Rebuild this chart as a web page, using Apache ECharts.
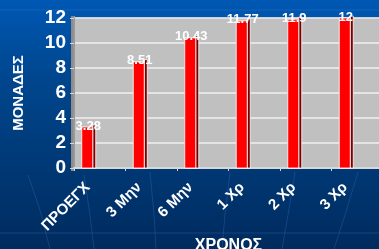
<!DOCTYPE html>
<html>
<head>
<meta charset="utf-8">
<script src="https://cdn.jsdelivr.net/npm/echarts@6/dist/echarts.min.js"></script>
<style>
  html, body { margin: 0; padding: 0; }
  #chart { width: 379px; height: 249px; }
</style>
</head>
<body>
<div id="chart"></div>
<script>
// κατηγορίες και τιμές
var categories = ['ΠΡΟΕΓΧ', '3 Μην', '6 Μην', '1 Χρ', '2 Χρ', '3 Χρ'];
var values = [3.28, 8.51, 10.43, 11.77, 11.9, 12];
var valueLabels = ['3.28', '8.51', '10.43', '11.77', '11.9', '12'];
var yTicks = [0, 2, 4, 6, 8, 10, 12];

var myChart = echarts.init(document.getElementById('chart'));

function renderBar(params, api) {
    var i = api.value(0);
    var v = api.value(1);
    var top = api.coord([i, v]);
    var base = api.coord([i, 0]);
    var x = top[0] - 18;
    var w = 11;
    var h = base[1] - top[1];
    return {
        type: 'group',
        children: [
            {
                type: 'rect',
                shape: { x: x + w, y: top[1] - 2, width: 3, height: h + 2 },
                style: { fill: '#7a0000', stroke: '#ffffff', lineWidth: 0.8 }
            },
            {
                type: 'rect',
                shape: { x: x, y: top[1], width: w, height: h },
                style: { fill: '#ff0000', stroke: '#ffffff', lineWidth: 0.8 }
            },
            {
                type: 'text',
                style: {
                    x: x + w / 2 + 1, y: top[1] - 1,
                    text: valueLabels[params.dataIndex],
                    fill: '#ffffff',
                    font: 'bold 13px "Liberation Sans", Arial, sans-serif',
                    align: 'center', verticalAlign: 'middle'
                }
            }
        ]
    };
}

var faint = { stroke: 'rgba(80,130,210,0.25)', lineWidth: 1 };

myChart.setOption({
    animation: false,
    backgroundColor: {
        type: 'linear', x: 0, y: 0, x2: 0, y2: 1,
        colorStops: [
            { offset: 0, color: '#0058b4' },
            { offset: 0.3, color: '#00478f' },
            { offset: 1, color: '#002b5e' }
        ]
    },
    graphic: [
        { type: 'line', shape: { x1: 0, y1: 233, x2: 379, y2: 233 }, style: faint },
        { type: 'line', shape: { x1: 0, y1: 10, x2: 379, y2: 10 }, style: faint },
        { type: 'polyline', shape: { points: [[28, 175], [40, 210], [50, 249]] }, style: faint },
        { type: 'polyline', shape: { points: [[84, 175], [90, 215], [94, 249]] }, style: faint },
        { type: 'polyline', shape: { points: [[150, 172], [154, 215], [156, 249]] }, style: faint },
        { type: 'polyline', shape: { points: [[230, 172], [225, 215], [222, 249]] }, style: faint },
        { type: 'polyline', shape: { points: [[295, 172], [288, 215], [282, 249]] }, style: faint },
        { type: 'polyline', shape: { points: [[358, 172], [345, 215], [334, 249]] }, style: faint },
        {
            type: 'rect', z: -1,
            shape: { x: 71, y: 16, width: 4, height: 155 },
            style: { fill: '#8c8c8c' }
        }
    ],
    grid: {
        left: 74, top: 18, width: 309, height: 150,
        outerBoundsMode: 'none',
        containLabel: false,
        show: true, backgroundColor: '#c0c0c0', borderColor: '#a0a0a0', borderWidth: 1
    },
    xAxis: {
        type: 'category',
        data: categories,
        name: 'ΧΡΟΝΟΣ',
        nameLocation: 'middle',
        nameGap: 70,
        nameMoveOverlap: false,
        nameTextStyle: { color: '#ffffff', fontWeight: 'bold', fontSize: 16, fontFamily: 'Liberation Sans', verticalAlign: 'top' },
        axisLine: { lineStyle: { color: '#d8d8d8', width: 2 } },
        axisTick: { show: true, length: 3, lineStyle: { color: '#d8d8d8' } },
        axisLabel: {
            rotate: 45,
            margin: 5,
            color: '#ffffff',
            fontWeight: 'bold',
            fontSize: 15,
            fontFamily: 'Liberation Sans',
            padding: [0, 17, 0, 0]
        }
    },
    yAxis: {
        type: 'value',
        min: yTicks[0],
        max: yTicks[yTicks.length - 1],
        interval: 2,
        name: 'ΜΟΝΑΔΕΣ',
        nameLocation: 'middle',
        nameGap: 48,
        nameMoveOverlap: false,
        nameTextStyle: { color: '#ffffff', fontWeight: 'bold', fontSize: 15, fontFamily: 'Liberation Sans' },
        axisLine: { show: true, lineStyle: { color: '#9a9a9a' } },
        axisTick: { show: true, length: 4, lineStyle: { color: '#d8d8d8' } },
        splitLine: { lineStyle: { color: '#f0f0f0', width: 1.5 } },
        axisLabel: {
            margin: 8,
            color: '#ffffff',
            fontWeight: 'bold',
            fontSize: 19,
            fontFamily: 'Liberation Sans'
        }
    },
    series: [{
        type: 'custom',
        renderItem: renderBar,
        encode: { x: 0, y: 1 },
        data: values.map(function (v, i) { return [i, v]; }),
        clip: false
    }]
});
</script>
</body>
</html>
